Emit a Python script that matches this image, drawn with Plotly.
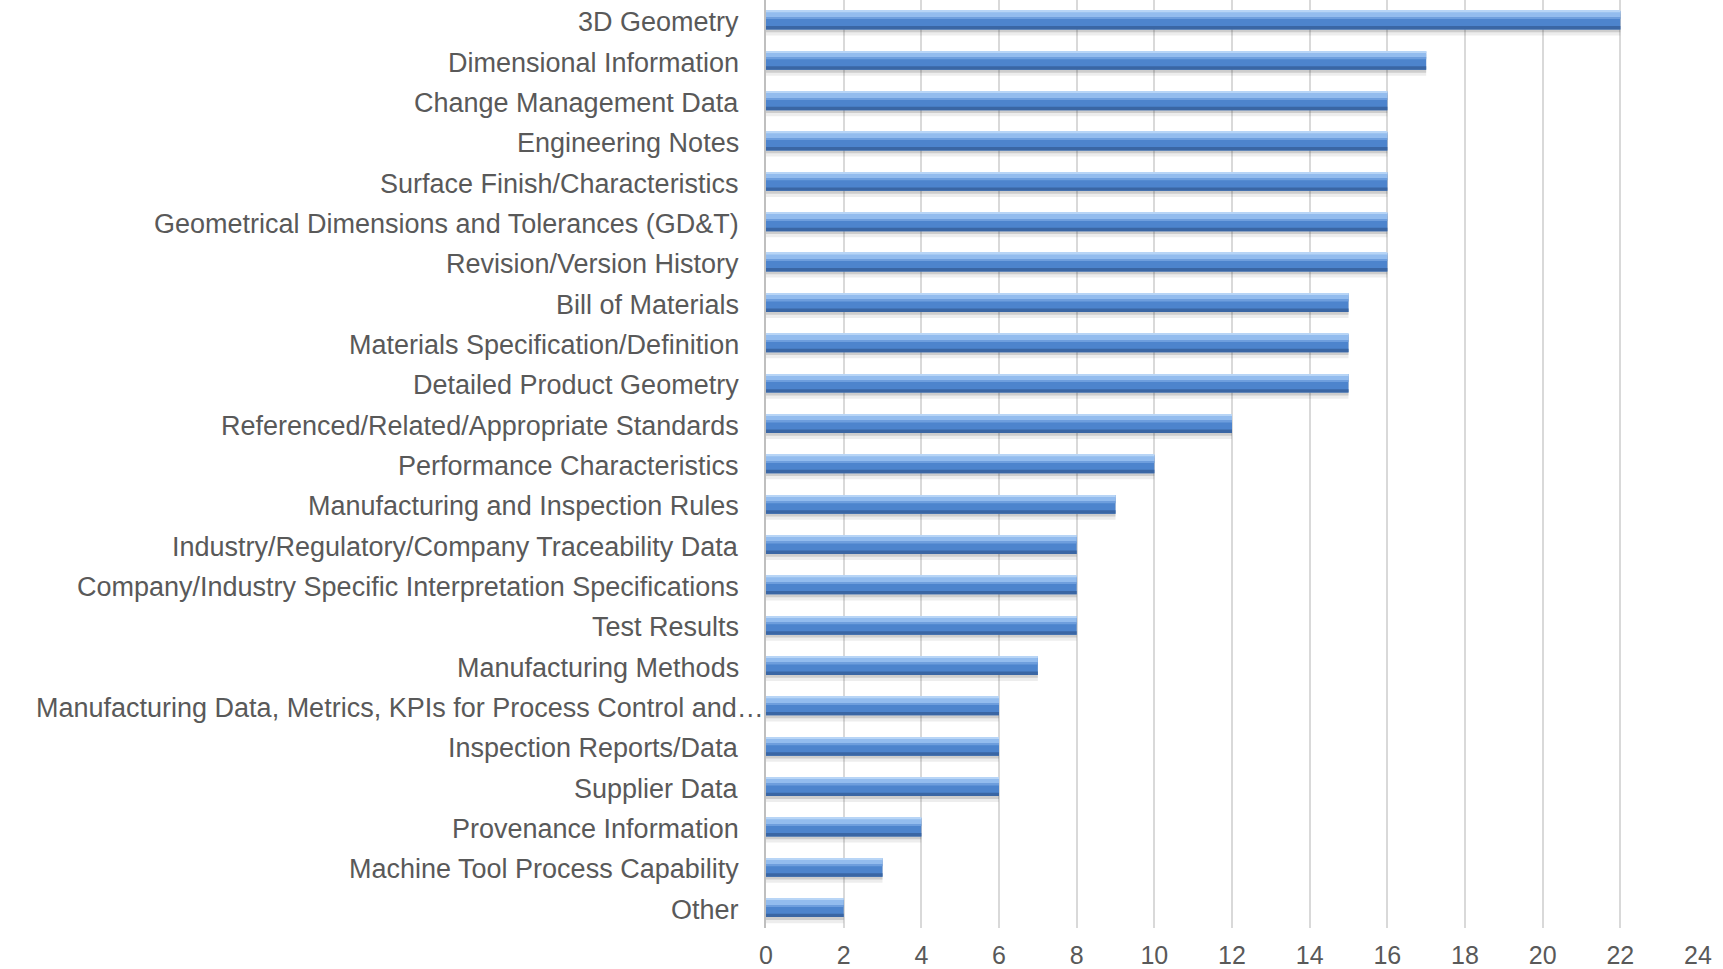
import plotly.graph_objects as go

# Survey responses per type of product information (top to bottom)
categories = [
    "3D Geometry",
    "Dimensional Information",
    "Change Management Data",
    "Engineering Notes",
    "Surface Finish/Characteristics",
    "Geometrical Dimensions and Tolerances (GD&T)",
    "Revision/Version History",
    "Bill of Materials",
    "Materials Specification/Definition",
    "Detailed Product Geometry",
    "Referenced/Related/Appropriate Standards",
    "Performance Characteristics",
    "Manufacturing and Inspection Rules",
    "Industry/Regulatory/Company Traceability Data",
    "Company/Industry Specific Interpretation Specifications",
    "Test Results",
    "Manufacturing Methods",
    "Manufacturing Data, Metrics, KPIs for Process Control and…",
    "Inspection Reports/Data",
    "Supplier Data",
    "Provenance Information",
    "Machine Tool Process Capability",
    "Other",
]
counts = [22, 17, 16, 16, 16, 16, 16, 15, 15, 15, 12, 10, 9, 8, 8, 8, 7, 6, 6, 6, 4, 3, 2]
x_ticks = list(range(0, 25, 2))

FONT = "Liberation Sans, Arial, sans-serif"
LABEL_COLOR = "#595959"

fig = go.Figure()


def band(width, offset, color, hover=False):
    """One horizontal layer of the shaded bar, drawn from the shared values."""
    fig.add_trace(go.Bar(
        y=categories, x=counts, orientation="h",
        width=width, offset=offset,
        marker=dict(color=color, line=dict(width=0)),
        hoverinfo="x+y" if hover else "skip", showlegend=False,
    ))


# soft drop shadow under each bar
band(0.52, -0.14, "rgba(80,80,80,0.10)")
band(0.46, -0.16, "rgba(60,60,60,0.18)")
# main bar body
band(0.46, -0.23, "#4D84CD", hover=True)
# light gloss across the upper third
band(0.16, -0.225, "#93BCEE")
band(0.035, -0.23, "#B8D5F6")
band(0.04, -0.07, "#6E9EDD")
# darker rim along the lower edge
band(0.085, 0.145, "#3A66A4")

# category labels, right-aligned against the value axis
for name in categories:
    long_label = name.endswith("…")
    fig.add_annotation(
        xref="paper", yref="y", x=0, y=name,
        text=name, showarrow=False,
        xanchor="right", xshift=0 if long_label else -25, yshift=-2,
        font=dict(family=FONT, size=27, color=LABEL_COLOR),
    )

fig.update_layout(
    width=1723, height=969,
    margin=dict(l=766, r=25, t=0, b=34),
    paper_bgcolor="white", plot_bgcolor="white",
    barmode="overlay",
    font=dict(family=FONT, size=26, color=LABEL_COLOR),
)
fig.update_xaxes(
    range=[0, 24], tickvals=x_ticks,
    showgrid=True, gridcolor="#D9D9D9", gridwidth=1.5,
    zeroline=False, showline=False,
    ticks="", tickfont=dict(family=FONT, size=25, color=LABEL_COLOR),
    ticklabelstandoff=10,
)
fig.update_yaxes(
    categoryorder="array", categoryarray=categories,
    autorange="reversed", showticklabels=False,
    showgrid=False, zeroline=False,
    showline=True, linecolor="#BFBFBF", linewidth=2,
)

fig.write_html("out.html")
